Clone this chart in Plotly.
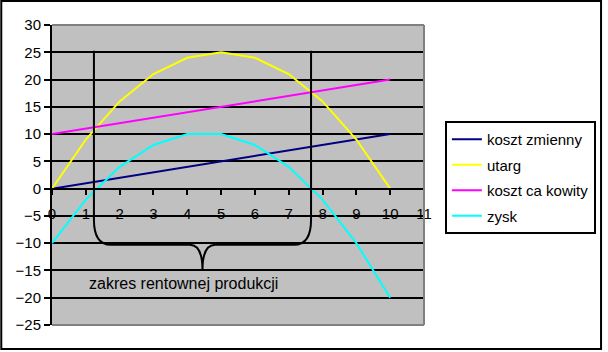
import plotly.graph_objects as go

# --- data ---
x_vals = [0, 1, 2, 3, 4, 5, 6, 7, 8, 9, 10]
koszt_zmienny = [0, 1, 2, 3, 4, 5, 6, 7, 8, 9, 10]
utarg = [0, 9, 16, 21, 24, 25, 24, 21, 16, 9, 0]
koszt_calkowity = [10, 11, 12, 13, 14, 15, 16, 17, 18, 19, 20]
zysk = [-10, -2, 4, 8, 10, 10, 8, 4, -2, -10, -20]
series_names = ["koszt zmienny", "utarg", "koszt ca kowity", "zysk"]
series_colors = ["#000080", "#FFFF00", "#FF00FF", "#00FFFF"]
progi = [1.24, 7.66]          # break-even points (vertical lines)
y_ticks = list(range(-25, 31, 5))
x_ticks = list(range(0, 12))
label_text = "zakres rentownej produkcji"

FONT = "Liberation Sans, Arial, sans-serif"

fig = go.Figure()
for name, vals, col in zip(series_names, [koszt_zmienny, utarg, koszt_calkowity, zysk], series_colors):
    fig.add_trace(go.Scatter(x=x_vals, y=vals, mode="lines", name=name,
                             line=dict(color=col, width=2), legendgroup=name))

# brace + vertical lines as one path in data coordinates
xl, xr = progi
xm = (xl + xr) / 2
top, ystart, yh, ytip = 25.3, -5.7, -10.3, -14.9
path = (f"M {xl},{top} L {xl},{ystart} Q {xl},{yh} {xl+0.5},{yh} "
        f"L {xm-0.38},{yh} Q {xm},{yh} {xm},{ytip} "
        f"Q {xm},{yh} {xm+0.38},{yh} L {xr-0.5},{yh} "
        f"Q {xr},{yh} {xr},{ystart} L {xr},{top}")
fig.add_shape(type="path", path=path, xref="x", yref="y",
              line=dict(color="black", width=2), layer="above")

# plot-area grey border (top, right, bottom)
for (x0, y0, x1, y1) in [(0, 1, 1, 1), (1, 0, 1, 1), (0, 0, 1, 0)]:
    fig.add_shape(type="line", xref="paper", yref="paper", x0=x0, y0=y0, x1=x1, y1=y1,
                  line=dict(color="#808080", width=2), layer="above")

# outer chart frame
pw, ph = 374, 300
fig.add_shape(type="rect", xref="paper", yref="paper",
              x0=(1 - 52) / pw, x1=(604 - 52) / pw,
              y0=(325 - 349) / ph, y1=(325 - 1) / ph,
              line=dict(color="black", width=2), layer="above")

fig.add_annotation(x=3.9, y=-17.3, xref="x", yref="y", text=label_text,
                   showarrow=False, font=dict(family=FONT, size=16, color="black"))

fig.update_layout(
    width=608, height=352,
    margin=dict(l=52, r=182, t=25, b=27),
    paper_bgcolor="white", plot_bgcolor="#C0C0C0",
    font=dict(family=FONT, size=15, color="black"),
    showlegend=True,
    legend=dict(x=(447 - 52) / pw, y=(325 - 121) / ph, xanchor="left", yanchor="top",
                bordercolor="black", borderwidth=2, bgcolor="white",
                font=dict(family=FONT, size=15), tracegroupgap=3, itemwidth=30),
    xaxis=dict(range=[0, 11], tickvals=x_ticks, ticktext=[str(v) for v in x_ticks],
               anchor="free", position=25 / 55, showline=True, linecolor="black", linewidth=2,
               ticks="outside", ticklen=5, tickwidth=2, tickcolor="black",
               showgrid=False, zeroline=False, ticklabelstandoff=6,
               tickfont=dict(size=15)),
    yaxis=dict(range=[-25, 30], tickvals=y_ticks, showline=True, linecolor="black", linewidth=2,
               ticks="outside", ticklen=6, tickwidth=2, tickcolor="black",
               showgrid=True, gridcolor="black", gridwidth=2, zeroline=False,
               tickfont=dict(size=15)),
)

fig.write_html("out.html")
